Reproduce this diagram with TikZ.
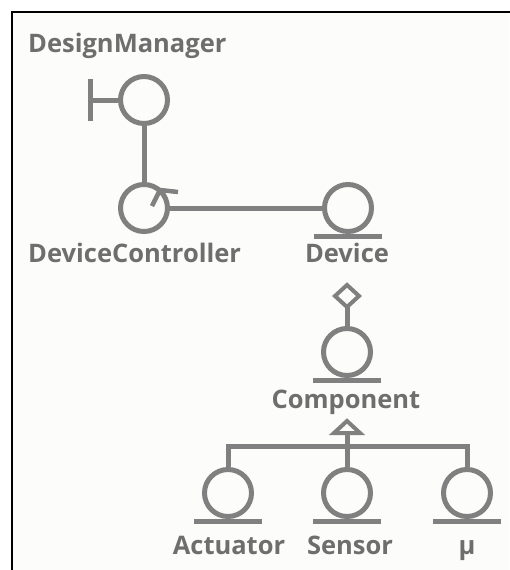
\documentclass[tikz,border=0pt]{standalone}
\usepackage{fontspec}
\setmainfont{Open Sans}
\usetikzlibrary{arrows.meta}
\usetikzlibrary{shapes.geometric}
\usetikzlibrary{positioning}
\definecolor{umlgray}{RGB}{128,128,128}
\definecolor{umltext}{RGB}{110,110,110}
\definecolor{paper}{RGB}{252,252,250}
\tikzset{
	obj/.style={circle, draw=umlgray, line width=5pt, minimum size=47pt, inner sep=0pt},
	link/.style={draw=umlgray, line width=5pt},
	lbl/.style={text=umltext, font=\bfseries\fontsize{25.5}{25.5}\selectfont, anchor=base, inner sep=0pt},
	tip/.style={draw=umlgray, line width=4pt, line join=miter},
}
\newcommand{\entityline}[1]{% underline of an entity
	\draw[link] ([xshift=-34pt, yshift=-2.5pt]#1.south) -- ([xshift=34pt, yshift=-2.5pt]#1.south)
}
\begin{document}
\begin{tikzpicture}[x=1pt, y=-1pt]
	\useasboundingbox (0,0) rectangle (509,570);
	\fill[paper] (12,12) rectangle (509,570);
	\draw[black, line width=2pt] (12,571) -- (12,12) -- (510,12);

	% boundary
	\node[lbl, anchor=base west] (dmlbl) at (28,52) {DesignManager};
	\node[obj] (dm) at (144,100) {};
	\coordinate (dmbar) at (90,100);
	\draw[link] (dm.west) -- (dmbar);
	\draw[link] ([yshift=-21pt]dmbar) -- ([yshift=21pt]dmbar);

	% control
	\node[obj] (dc) at (144,208) {};
	\node[lbl, anchor=base west] (dclbl) at (28,262) {DeviceController};
	\draw[link] (dm) -- (dc);
	\draw[tip, line width=4.5pt] ([shift={(8,-2)}]dc.center) -- ([shift={(16,-18)}]dc.center) -- ([shift={(34,-16)}]dc.center);

	% entities
	\node[obj] (dev) at (348,208) {};
	\entityline{dev};
	\node[lbl] (devlbl) at (347,262) {Device};
	\draw[link] (dc) -- (dev);

	\coordinate (dia) at (347,307);
	\node[obj] (comp) at (347,352) {};
	\entityline{comp};
	\node[lbl] (complbl) at (346,408) {Component};
	\draw[link] (dia) -- (comp);
	\draw[tip] (dia) -- ++(-12,-11) -- ++(12,-11) -- ++(12,11) -- cycle;

	\node[obj] (act) at (228,493) {};
	\node[obj] (sen) at (347,493) {};
	\node[obj] (mu) at (467,493) {};
	\foreach \e in {act, sen, mu} {\entityline{\e};}
	\node[lbl] (actlbl) at (229,554) {Actuator};
	\node[lbl] (senlbl) at (350,554) {Sensor};
	\node[lbl] (mulbl) at (467,554) {μ};

	% generalisation
	\coordinate (gtip) at (347,421);
	\coordinate (gbase) at (347,433);
	\coordinate (gbar) at (347,446);
	\draw[link] (sen) -- (gbase);
	\draw[tip] (gtip) -- ++(13,12) -- ++(-26,0) -- cycle;
	\draw[link] (act) |- (gbar) -| (mu);
\end{tikzpicture}
\end{document}
